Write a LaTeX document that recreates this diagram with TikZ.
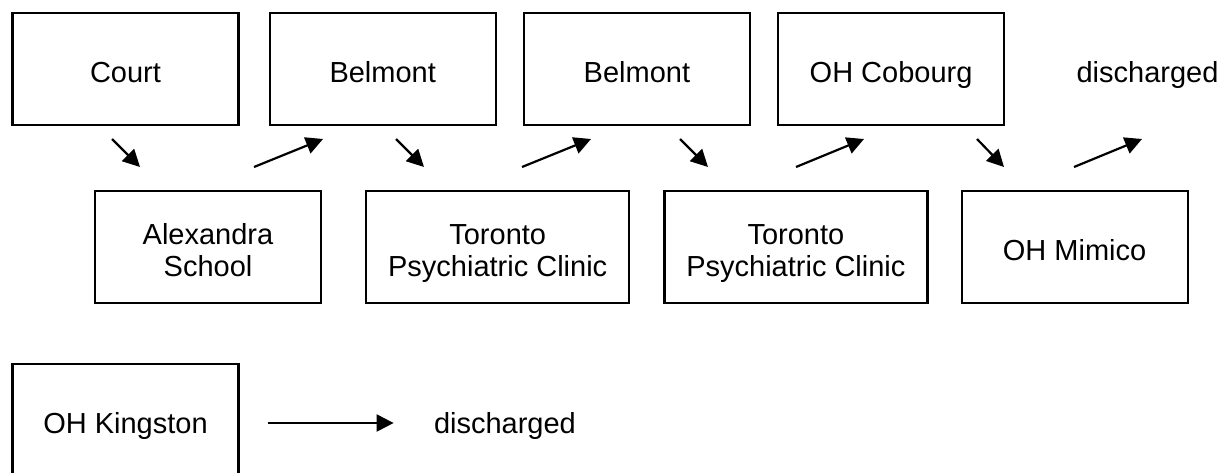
\documentclass[tikz,border=0pt]{standalone}
\usepackage{fontspec}
\setmainfont{Liberation Sans}
\usetikzlibrary{arrows.meta}
\usetikzlibrary{positioning}

\tikzset{
    place/.style={rectangle, draw=black, line width=1.1pt, minimum width=113pt, minimum height=56pt, inner sep=0pt, align=center, font=\fontsize{14.5}{16}\selectfont, text height=13.5pt, text depth=0.5pt},
    two lines/.style={text height=29.5pt, text depth=0.5pt},
    wide place/.style={place, two lines, minimum width=131.5pt},
    outcome/.style={inner sep=0pt, font=\fontsize{14.5}{16}\selectfont, text height=13.5pt, text depth=0.5pt},
    move/.style={-{Triangle[length=8.5pt,width=8.5pt]}, line width=1.1pt},
}

\begin{document}
\begin{tikzpicture}[x=0.5pt, y=-0.5pt]
    \useasboundingbox (0,0) rectangle (1221,472);
    \clip (0,0) rectangle (1221,472);

    % top row
    \node [place] (court) at (125.5,69) {Court};
    \node [place, right=14.5pt of court] (belmontA) {Belmont};
    \node [place, right=13pt of belmontA] (belmontB) {Belmont};
    \node [place, right=13pt of belmontB] (cobourg) {OH Cobourg};
    \node [outcome, right=35.5pt of cobourg] (dischargedA) {discharged};

    % bottom row
    \node [place, two lines] (alexandra) at (208,247) {Alexandra\\School};
    \node [wide place, right=21.5pt of alexandra] (clinicA) {Toronto\\Psychiatric Clinic};
    \node [wide place, right=16.5pt of clinicA] (clinicB) {Toronto\\Psychiatric Clinic};
    \node [place, right=16pt of clinicB] (mimico) {OH Mimico};

    % second patient
    \node [place] (kingston) at (125.5,420) {OH Kingston};
    \node [outcome, right=97pt of kingston] (dischargedB) {discharged};

    % transfers
    \coordinate (d1a) at (112,139);  \coordinate (d1b) at (140,167);
    \coordinate (u1a) at (254,167);  \coordinate (u1b) at (323,139);
    \coordinate (d2a) at (396,139);  \coordinate (d2b) at (424,167);
    \coordinate (u2a) at (522,167);  \coordinate (u2b) at (591,139);
    \coordinate (d3a) at (680,139);  \coordinate (d3b) at (708,167);
    \coordinate (u3a) at (796,167);  \coordinate (u3b) at (864,139);
    \coordinate (d4a) at (977,139);  \coordinate (d4b) at (1004,167);
    \coordinate (u4a) at (1074,167); \coordinate (u4b) at (1142,139);

    \draw [move] (d1a) -- (d1b);
    \draw [move] (u1a) -- (u1b);
    \draw [move] (d2a) -- (d2b);
    \draw [move] (u2a) -- (u2b);
    \draw [move] (d3a) -- (d3b);
    \draw [move] (u3a) -- (u3b);
    \draw [move] (d4a) -- (d4b);
    \draw [move] (u4a) -- (u4b);

    \draw [move, shorten <=14pt, shorten >=20pt] ([yshift=-1.5pt]kingston.east) -- ([yshift=-1.5pt]dischargedB.west);
\end{tikzpicture}
\end{document}
